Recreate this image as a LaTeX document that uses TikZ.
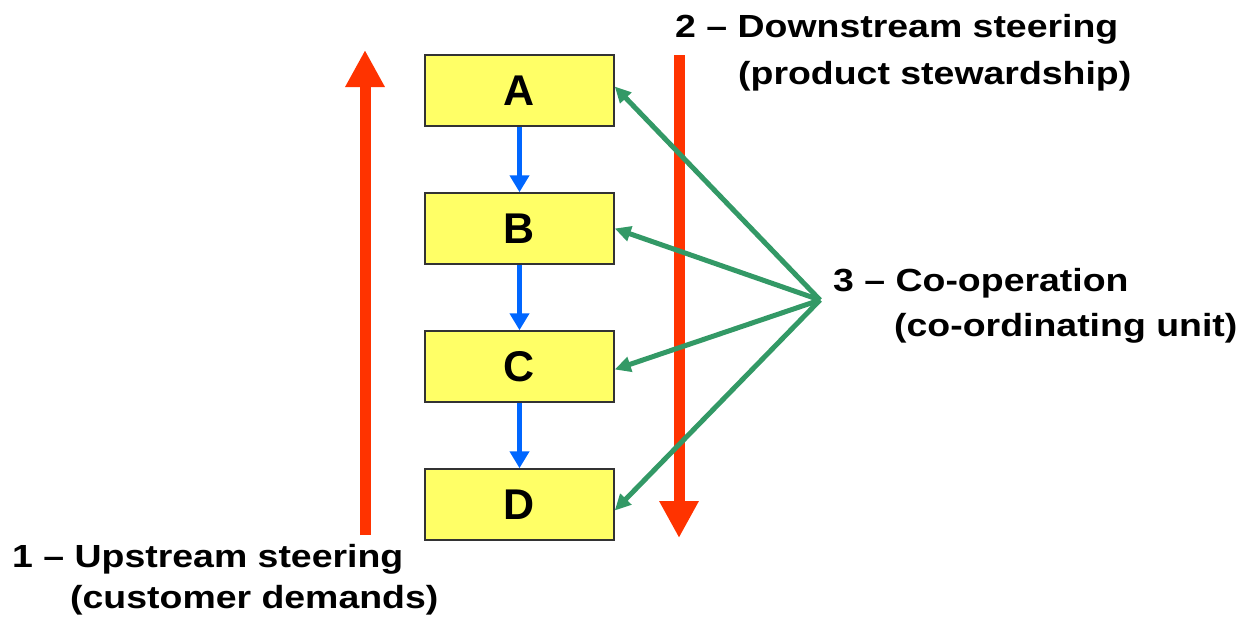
\documentclass[tikz,border=0pt]{standalone}
\usepackage{fontspec}
\setmainfont{Liberation Sans}[FakeStretch=1.17]
\newfontfamily\letterfont{Liberation Sans}
\usetikzlibrary{arrows.meta}
\definecolor{boxyellow}{RGB}{255,255,102}
\definecolor{steerred}{RGB}{255,51,0}
\definecolor{flowblue}{RGB}{0,102,255}
\definecolor{coopgreen}{RGB}{51,153,102}
\begin{document}
\begin{tikzpicture}
        [x=1pt, y=-1pt,
         stage/.style={draw=black!80, line width=1.5pt, fill=boxyellow, minimum width=189pt, minimum height=71pt, inner sep=0, font=\letterfont\bfseries\fontsize{43}{43}\selectfont},
         caption/.style={anchor=base west, inner sep=0, font=\bfseries\fontsize{32}{38}\selectfont},
         steer/.style={steerred, line width=11pt, -{Triangle[width=37pt,length=37pt]}},
         flow/.style={flowblue, line width=5pt, -{Triangle[width=19pt,length=17pt]}},
         coop/.style={coopgreen, line width=5pt, -{Triangle[width=15pt,length=16pt]}}]

        \useasboundingbox (0, 0) rectangle (1247, 619);

        \node[stage] (A) at (519.5, 90.5) {A};
        \node[stage] (B) at (519.5, 228.5) {B};
        \node[stage] (C) at (519.5, 366.5) {C};
        \node[stage] (D) at (519.5, 504.5) {D};

        \coordinate (upfoot) at (365, 535);
        \coordinate (uptip) at (365, 50);
        \coordinate (downtop) at (679, 55);
        \coordinate (downtip) at (679, 538);
        \coordinate (hub) at (820, 300);

        \node[caption] (up1) at (12, 567) {1 – Upstream steering};
        \node[caption] (up2) at (70, 608) {(customer demands)};
        \node[caption] (down1) at (675, 37) {2 – Downstream steering};
        \node[caption] (down2) at (738, 84) {(product stewardship)};
        \node[caption] (coop1) at (833, 291) {3 – Co-operation};
        \node[caption] (coop2) at (894, 336) {(co-ordinating unit)};

        \draw[steer] (upfoot) -- (uptip);
        \draw[steer] (downtop) -- (downtip);

        \draw[flow] (A) -- (B);
        \draw[flow] (B) -- (C);
        \draw[flow] (C) -- (D);

        \draw[coop] (hub) -- ([yshift=4pt]A.east);
        \draw[coop] (hub) -- (B.east);
        \draw[coop] (hub) -- ([yshift=-3pt]C.east);
        \draw[coop] (hub) -- ([yshift=-6pt]D.east);
      \end{tikzpicture}
\end{document}
